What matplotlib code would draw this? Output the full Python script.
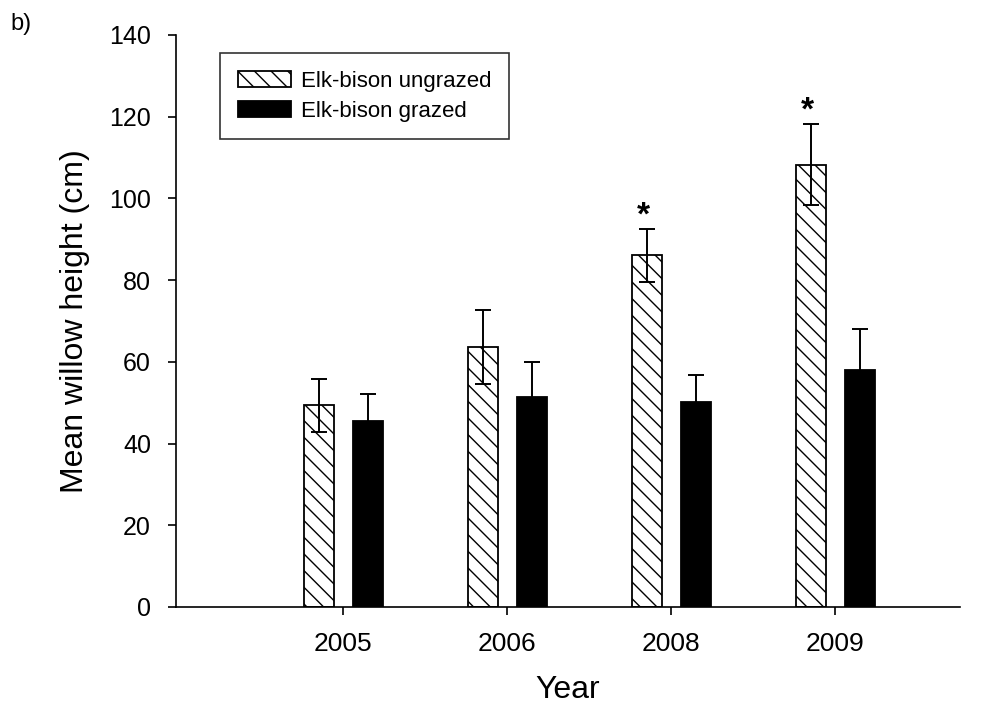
import matplotlib
matplotlib.use("Agg")
import matplotlib.pyplot as plt
import numpy as np

plt.rcParams['font.family'] = ['Liberation Sans', 'DejaVu Sans']
plt.rcParams['hatch.linewidth'] = 1.0

years = ['2005', '2006', '2008', '2009']
ungrazed = [49.4, 63.6, 86.1, 108.3]
ungrazed_err = [6.5, 9.0, 6.5, 9.8]
grazed = [45.6, 51.5, 50.1, 58.1]
grazed_err = [6.6, 8.5, 6.6, 9.9]
signif = [False, False, True, True]

fig = plt.figure(figsize=(9.87, 7.13), dpi=100)
ax = fig.add_axes([176/987, 1-607/713, (960-176)/987, (607-35)/713])

x = np.arange(len(years))
w = 0.185
off = 0.15
ax.bar(x - off, ungrazed, w, facecolor='white', edgecolor='black', hatch='\\\\',
       linewidth=1.3, label='Elk-bison ungrazed', zorder=2)
ax.bar(x + off, grazed, w, facecolor='black', edgecolor='black',
       linewidth=1.3, label='Elk-bison grazed', zorder=2)
ax.errorbar(x - off, ungrazed, yerr=ungrazed_err, fmt='none', ecolor='black',
            elinewidth=1.4, capsize=5.5, capthick=1.4, zorder=3)
ax.errorbar(x + off, grazed, yerr=grazed_err, fmt='none', ecolor='black',
            elinewidth=1.4, capsize=5.5, capthick=1.4, zorder=3)
for xi, v, e, s in zip(x, ungrazed, ungrazed_err, signif):
    if s:
        ax.text(xi - off - 0.02, v + e + 3.2, '*', ha='center', va='center',
                fontsize=24, fontweight='bold')

ax.set_xlim(-1.02, 3.76)
ax.set_ylim(0, 140)
ax.set_yticks(np.arange(0, 141, 20))
ax.set_xticks(x)
ax.set_xticklabels(years)
ax.tick_params(axis='both', direction='out', length=6, width=1.2)
ax.tick_params(axis='y', pad=12, labelsize=18)
ax.tick_params(axis='x', pad=12, labelsize=19)
for sp in ['top', 'right']:
    ax.spines[sp].set_visible(False)
for sp in ['left', 'bottom']:
    ax.spines[sp].set_linewidth(1.2)

ax.set_xlabel('Year', fontsize=23, labelpad=14)
ax.set_ylabel('Mean willow height (cm)', fontsize=23, labelpad=14)

leg = ax.legend(loc='upper left', bbox_to_anchor=((220-176)/784, (607-53)/572),
                fontsize=16, frameon=True, fancybox=False, edgecolor='black',
                handlelength=2.4, handleheight=0.75, borderpad=0.8,
                labelspacing=0.4, handletextpad=0.45, borderaxespad=0)
leg.get_frame().set_linewidth(1.2)
fig.text(10/987, 1-24/713, 'b)', fontsize=17, va='center', ha='left')

fig.savefig('out.png', dpi=100)
